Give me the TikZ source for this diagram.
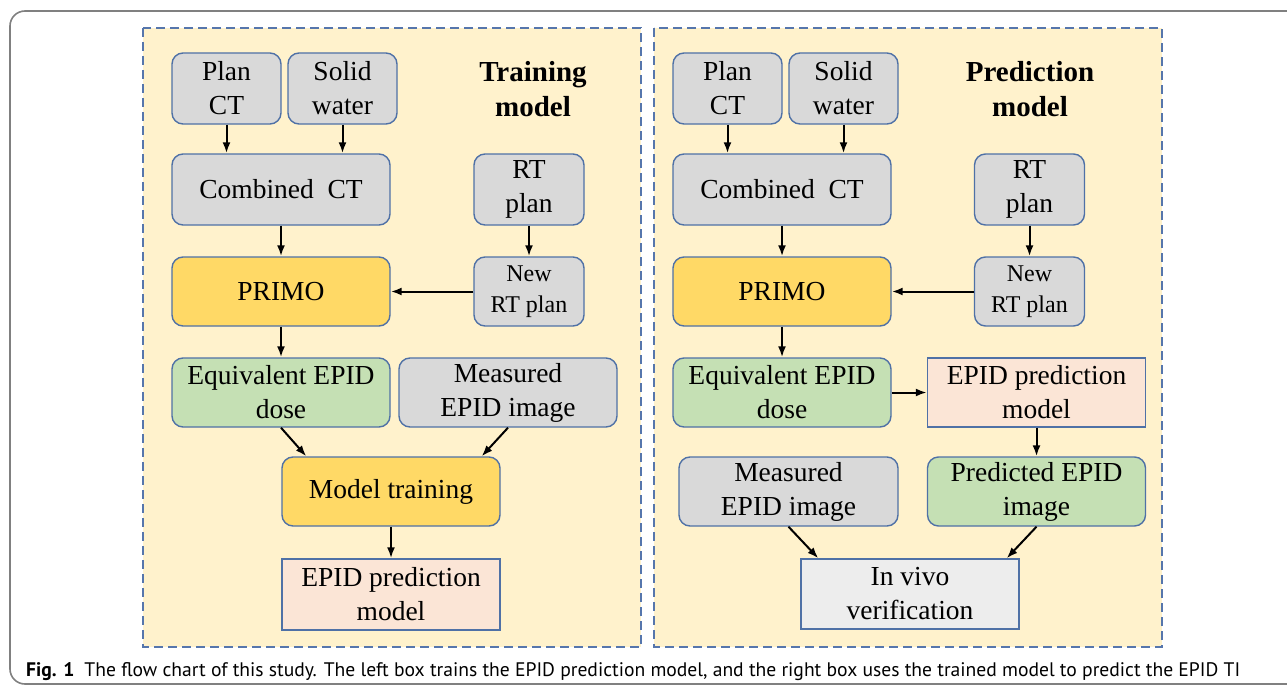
\documentclass[tikz,border=0pt]{standalone}
\usepackage{fontspec}
\setmainfont{Liberation Serif}
\newfontfamily\capfont{PT Sans}
\usepackage{xcolor}
\usetikzlibrary{arrows.meta, positioning}

\definecolor{panelfill}{HTML}{FFF2CC}
\definecolor{panelline}{HTML}{5676AC}
\definecolor{boxline}{HTML}{4F71A6}
\definecolor{boxgray}{HTML}{D9D9D9}
\definecolor{boxgold}{HTML}{FFD966}
\definecolor{boxgreen}{HTML}{C5E0B4}
\definecolor{boxpink}{HTML}{FBE5D6}
\definecolor{boxlight}{HTML}{EDEDED}
\definecolor{framegray}{HTML}{808080}

\tikzset{
    block/.style={draw=boxline, line width=1.4pt, rounded corners=11pt,
        align=center, inner sep=0pt, font=\fontsize{27.5}{34}\selectfont},
    graybox/.style={block, fill=boxgray},
    goldbox/.style={block, fill=boxgold},
    greenbox/.style={block, fill=boxgreen},
    pinkbox/.style={block, fill=boxpink, rounded corners=0pt},
    lightbox/.style={block, fill=boxlight, rounded corners=0pt},
    panel/.style={draw=panelline, fill=panelfill, line width=1.4pt,
        dash pattern=on 9pt off 5pt},
    heading/.style={align=center, font=\fontsize{29}{35}\selectfont\bfseries},
    flow/.style={-{Latex[length=11pt,width=8pt]}, line width=2pt},
}

\begin{document}
\begin{tikzpicture}[x=1pt, y=-1pt]
    \useasboundingbox (0,0) rectangle (1287,685);
    % outer frame
    \draw[framegray, line width=1.6pt, rounded corners=15pt]
        (1300,11) -- (10,11) -- (10,684) -- (1300,684);
    % panels
    \draw[panel] (143,28) rectangle (641,647);
    \draw[panel] (654,28) rectangle (1162,647);

    % training model
    \node[graybox, minimum width=109pt, minimum height=71pt] (planL) at (226.5,88.5) {Plan\\CT};
    \node[graybox, minimum width=109pt, minimum height=71pt] (solidL) at (342.5,88.5) {Solid\\water};
    \node[heading] (titleL) at (533,89) {Training\\model};
    \node[graybox, minimum width=218pt, minimum height=71pt] (combL) at (281,189.5) {Combined~ CT};
    \node[graybox, minimum width=110pt, minimum height=71pt] (rtL) at (529,189.5) {RT\\plan};
    \node[goldbox, minimum width=218pt, minimum height=69pt] (primoL) at (281,291.5) {PRIMO};
    \node[graybox, minimum width=110pt, minimum height=69pt, font=\fontsize{24}{31}\selectfont] (newL) at (529,291.5) {New\\RT plan};
    \node[greenbox, minimum width=218pt, minimum height=69pt] (equivL) at (281,392.5) {Equivalent EPID\\dose};
    \node[graybox, minimum width=218pt, minimum height=69pt] (measL) at (508,392.5) {Measured\\EPID image};
    \node[goldbox, minimum width=218pt, minimum height=69pt] (trainL) at (391,491.5) {Model training};
    \node[pinkbox, minimum width=218pt, minimum height=71pt] (modelL) at (391,594.5) {EPID prediction\\model};

    \draw[flow] (planL) -- (planL |- combL.north);
    \draw[flow] (solidL) -- (solidL |- combL.north);
    \draw[flow] (combL) -- (primoL);
    \draw[flow] (rtL) -- (newL);
    \draw[flow] (newL) -- (primoL);
    \draw[flow] (primoL) -- (equivL);
    \draw[flow] (equivL.south) -- ([xshift=25pt]trainL.north west);
    \draw[flow] (measL.south) -- ([xshift=-19pt]trainL.north east);
    \draw[flow] (trainL) -- (modelL);

    % prediction model
    \node[graybox, minimum width=109pt, minimum height=71pt] (planR) at (727.5,88.5) {Plan\\CT};
    \node[graybox, minimum width=109pt, minimum height=71pt] (solidR) at (843.5,88.5) {Solid\\water};
    \node[heading] (titleR) at (1030,89) {Prediction\\model};
    \node[graybox, minimum width=218pt, minimum height=71pt] (combR) at (782,189.5) {Combined~ CT};
    \node[graybox, minimum width=110pt, minimum height=71pt] (rtR) at (1029.5,189.5) {RT\\plan};
    \node[goldbox, minimum width=218pt, minimum height=69pt] (primoR) at (782,291.5) {PRIMO};
    \node[graybox, minimum width=110pt, minimum height=69pt, font=\fontsize{24}{31}\selectfont] (newR) at (1029.5,291.5) {New\\RT plan};
    \node[greenbox, minimum width=218pt, minimum height=69pt] (equivR) at (782,392.5) {Equivalent EPID\\dose};
    \node[pinkbox, minimum width=218pt, minimum height=69pt] (modelR) at (1036.5,392.5) {EPID prediction\\model};
    \node[graybox, minimum width=219pt, minimum height=69pt] (measR) at (788.5,491.5) {Measured\\EPID image};
    \node[greenbox, minimum width=218pt, minimum height=69pt] (predR) at (1036.5,491.5) {Predicted EPID\\image};
    \node[lightbox, minimum width=218pt, minimum height=70pt] (vivoR) at (910,594) {In vivo\\verification};

    \draw[flow] (planR) -- (planR |- combR.north);
    \draw[flow] (solidR) -- (solidR |- combR.north);
    \draw[flow] (combR) -- (primoR);
    \draw[flow] (rtR) -- (newR);
    \draw[flow] (newR) -- (primoR);
    \draw[flow] (primoR) -- (equivR);
    \draw[flow] (equivR) -- (modelR);
    \draw[flow] (modelR) -- (predR);
    \draw[flow] (measR.south) -- ([xshift=18pt]vivoR.north west);
    \draw[flow] (predR.south) -- ([xshift=-13pt]vivoR.north east);

    % caption
    \node[anchor=base west, inner sep=0pt, font=\capfont\fontsize{19.6}{23}\selectfont] (caption) at (26,676)
        {\textbf{Fig. 1}\hspace{10pt}The flow chart of this study. The left box trains the EPID prediction model, and the right box uses the trained model to predict the EPID TI};
\end{tikzpicture}
\end{document}
